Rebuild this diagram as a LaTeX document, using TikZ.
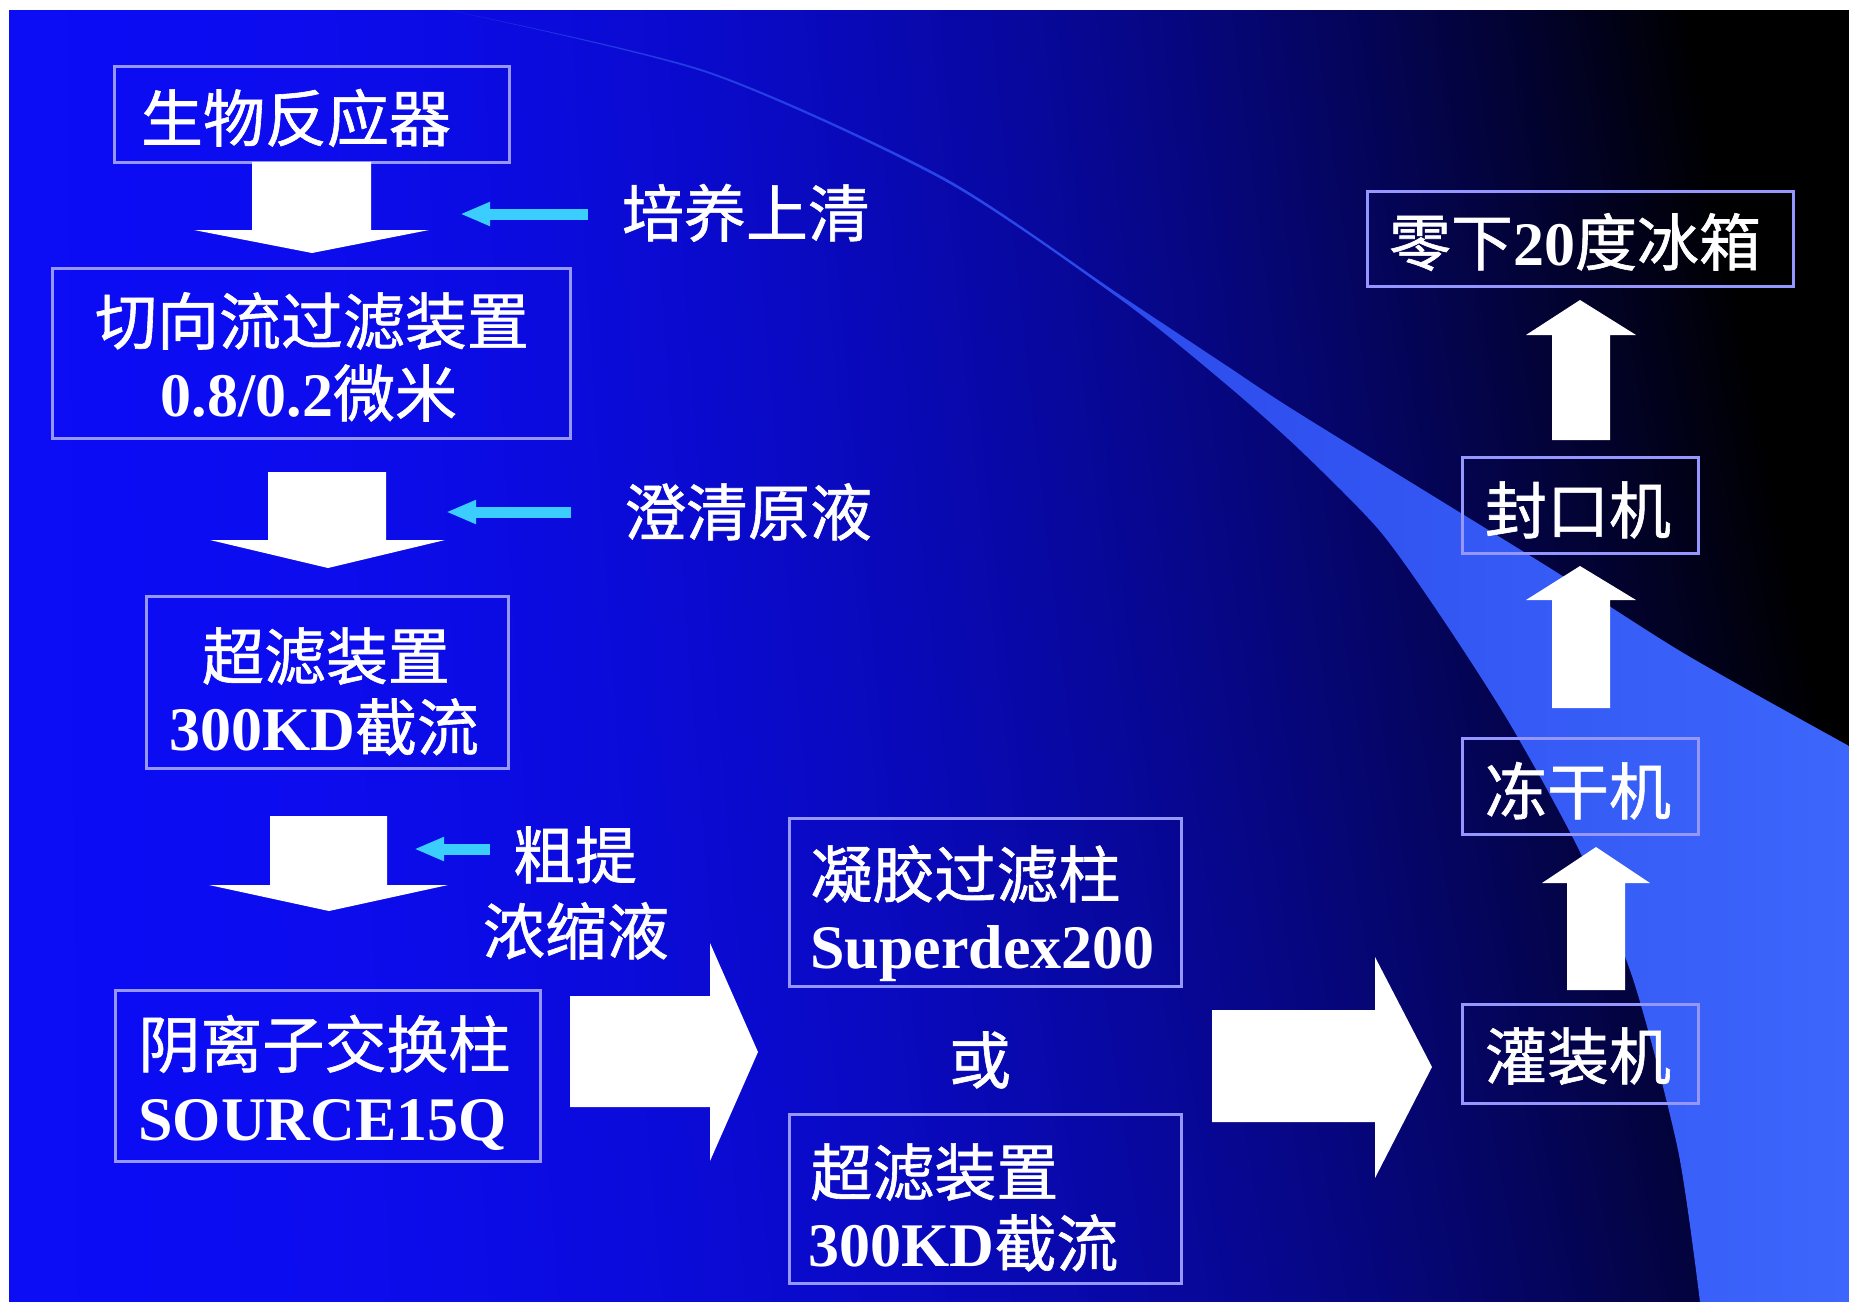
\documentclass[tikz,border=0pt]{standalone}
\usepackage{fontspec}
\setmainfont{Liberation Serif}
\newfontfamily\cjkf{Noto Sans CJK SC}[FakeBold=1]
\usetikzlibrary{arrows.meta}
\newcommand\zhs[1]{{\cjkf\mdseries #1}}
\definecolor{boxline}{RGB}{150,150,255}
\definecolor{arrcyan}{RGB}{60,205,255}
\definecolor{swooshc}{RGB}{60,102,252}
\definecolor{swthin}{RGB}{30,50,222}
\pgfdeclarefunctionalshading{bgfun}{\pgfpoint{0bp}{0bp}}{\pgfpoint{100bp}{100bp}}{}{
 25 sub 50 div exch 25 sub 50 div
 dup mul dup 0.85 mul 3 1 roll mul 0.3 mul add 0.96 exch sub
 dup 0 lt {pop 0} if dup 1 gt {pop 1} if
 dup 0.05 mul dup 3 -1 roll
}
\begin{document}
\begin{tikzpicture}[x=0.5pt,y=-0.5pt,
 box/.style={draw=boxline, line width=1.5pt, inner sep=0pt, outer sep=0pt},
 txt/.style={text=white, inner sep=0pt, font=\fontsize{31}{36}\selectfont\bfseries, text height=25.7pt, text depth=2.2pt},
 blk/.style={fill=white},
 cyanarr/.style={draw=arrcyan, line width=5.5pt, -{Triangle[length=15pt,width=11pt]}}
]
\useasboundingbox (0,0) rectangle (1849,1302);
\fill[white] (0,0) rectangle (1849,1302);
\shade[shading=bgfun] (9,10) rectangle (1849,1302);
\begin{scope}
\clip (9,10) rectangle (1849,1302);
\shade[left color=swthin, right color=swooshc]
 plot[smooth, tension=0.45] coordinates {(448,10) (707,71) (943,177) (1120,295) (1227,366) (1300,414) (1545,565) (1685,654) (1849,746)}
 -- (1849,1302)
 -- plot[smooth, tension=0.45] coordinates {(1700,1302) (1678,1150) (1633,979) (1580,852) (1510,724) (1440,615) (1379,530) (1300,450) (1227,385) (1120,299) (943,180) (707,73) (448,10)}
 -- cycle;
\end{scope}

% boxes
\node[box, minimum width=197.5pt, minimum height=48pt] (b1) at (311.5,114) {};
\node[box, minimum width=259pt, minimum height=85pt] (b2) at (311,353) {};
\node[box, minimum width=181pt, minimum height=86pt] (b3) at (327,682) {};
\node[box, minimum width=212.5pt, minimum height=85.5pt] (b4) at (327.5,1075.5) {};
\node[box, minimum width=196pt, minimum height=84pt] (b5) at (985,902) {};
\node[box, minimum width=196pt, minimum height=84.5pt] (b6) at (985,1198.5) {};
\node[box, minimum width=213pt, minimum height=47.5pt] (b7) at (1580,238.5) {};
\node[box, minimum width=118pt, minimum height=48pt] (b8) at (1580,505) {};
\node[box, minimum width=118pt, minimum height=48pt] (b9) at (1580,786) {};
\node[box, minimum width=118pt, minimum height=49.5pt] (b10) at (1580,1053.5) {};

% block arrows
\fill[blk] (252,162) -- (371,162) -- (371,230) -- (429,230) -- (312,253) -- (194,230) -- (252,230) -- cycle;
\fill[blk] (268,472) -- (386,472) -- (386,540) -- (445,540) -- (328,568) -- (210,540) -- (268,540) -- cycle;
\fill[blk] (270,816) -- (387,816) -- (387,885) -- (448,885) -- (329,911) -- (209,885) -- (270,885) -- cycle;
\fill[blk] (570,996) -- (710,996) -- (710,943) -- (758,1052) -- (710,1161) -- (710,1107) -- (570,1107) -- cycle;
\fill[blk] (1212,1010) -- (1375,1010) -- (1375,957) -- (1432,1067) -- (1375,1178) -- (1375,1122) -- (1212,1122) -- cycle;
\fill[blk] (1552,440) -- (1552,335) -- (1526,335) -- (1580,300) -- (1636,335) -- (1610,335) -- (1610,440) -- cycle;
\fill[blk] (1552,708) -- (1552,600) -- (1526,600) -- (1580,566) -- (1636,600) -- (1610,600) -- (1610,708) -- cycle;
\fill[blk] (1567,990) -- (1567,883) -- (1542,883) -- (1596,847) -- (1650,883) -- (1625,883) -- (1625,990) -- cycle;

% texts
\node[txt] (t1) at (296,118) {\zhs{生物反应器}};
\node[txt] (t2) at (746,213) {\zhs{培养上清}};
\node[txt] (t3a) at (312,321) {\zhs{切向流过滤装置}};
\node[txt] (t3b) at (309,393) {0.8/0.2\zhs{微米}};
\node[txt] (t4) at (748,512) {\zhs{澄清原液}};
\node[txt] (t5a) at (326,656) {\zhs{超滤装置}};
\node[txt] (t5b) at (324,727) {300KD\zhs{截流}};
\node[txt] (t6a) at (575,855) {\zhs{粗提}};
\node[txt] (t6b) at (576,931) {\zhs{浓缩液}};
\node[txt,anchor=west] (t7a) at (138,1044) {\zhs{阴离子交换柱}};
\node[txt,anchor=west] (t7b) at (138,1117) {SOURCE15Q};
\node[txt,anchor=west] (t8a) at (810,874) {\zhs{凝胶过滤柱}};
\node[txt,anchor=west] (t8b) at (810,945) {Superdex200};
\node[txt] (t9) at (980,1060) {\zhs{或}};
\node[txt,anchor=west] (t10a) at (810,1172) {\zhs{超滤装置}};
\node[txt,anchor=west] (t10b) at (808,1243) {300KD\zhs{截流}};
\node[txt] (t11) at (1575,242) {\zhs{零下}20\zhs{度冰箱}};
\node[txt] (t12) at (1578,510) {\zhs{封口机}};
\node[txt] (t13) at (1578,791) {\zhs{冻干机}};
\node[txt] (t14) at (1578,1056) {\zhs{灌装机}};

% cyan arrows
\coordinate (c1s) at (588,214); \coordinate (c1e) at (460,214);
\coordinate (c2s) at (571,512); \coordinate (c2e) at (446,512);
\coordinate (c3s) at (490,849); \coordinate (c3e) at (414,849);
\draw[cyanarr] (c1s) -- (c1e);
\draw[cyanarr] (c2s) -- (c2e);
\draw[cyanarr] (c3s) -- (c3e);
\end{tikzpicture}
\end{document}
